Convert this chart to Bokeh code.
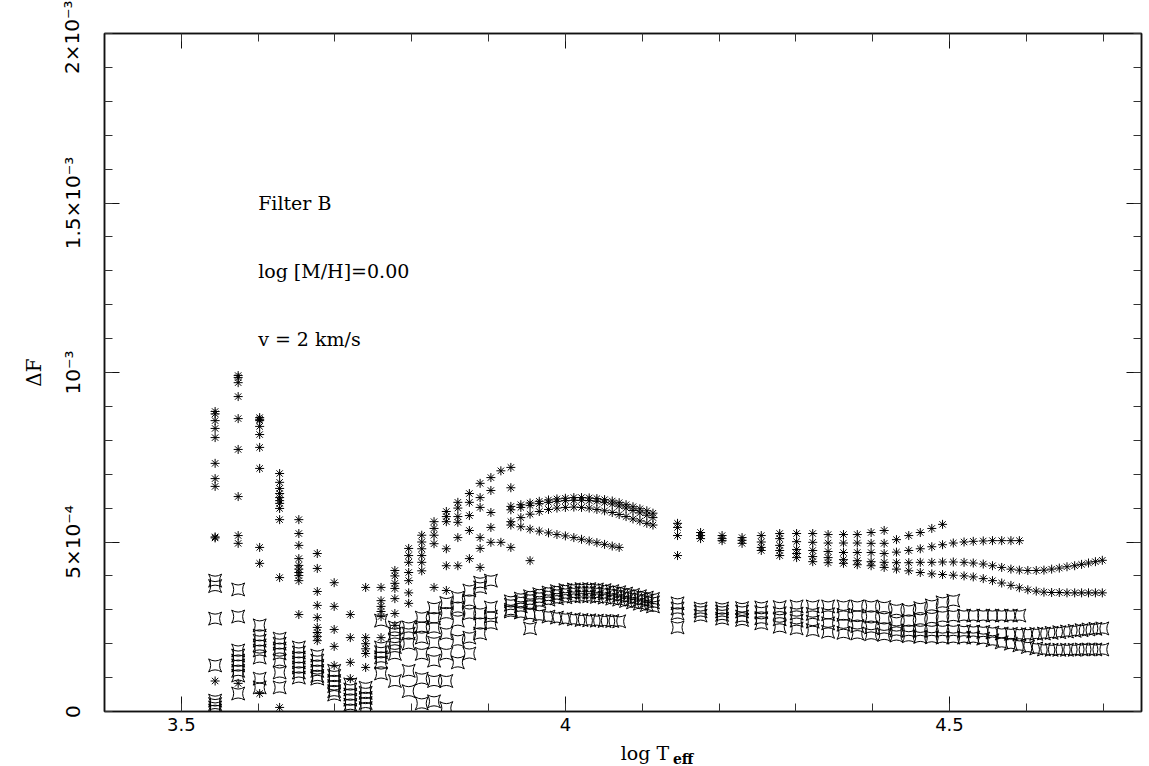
from bokeh.plotting import figure
from bokeh.layouts import column
from bokeh.models import LinearAxis, FixedTicker, CustomJSTickFormatter, Label, Range1d
from bokeh.embed import file_html
from bokeh.resources import INLINE

UNIT = 1e-4  # values below are in units of 1e-4

# ---------------- low-temperature columns (log Teff, values) ----------------
star_col_x = [3.544, 3.574, 3.602, 3.628, 3.653, 3.677, 3.699, 3.720, 3.740, 3.760,
              3.778, 3.796, 3.813, 3.829, 3.845, 3.860, 3.875, 3.889, 3.903, 3.916,
              3.929, 3.954, 4.146]
star_col_y = [
    [8.85, 8.78, 8.58, 8.35, 8.08, 7.32, 6.87, 6.64, 5.15, 5.12, 0.9],
    [9.91, 9.85, 9.70, 9.29, 8.64, 7.73, 6.34, 5.19, 4.96, 0.83],
    [8.67, 8.62, 8.58, 8.41, 8.17, 7.79, 7.17, 4.84, 4.37, 0.53],
    [7.02, 6.76, 6.58, 6.43, 6.31, 6.22, 6.14, 5.99, 5.66, 3.95, 0.12],
    [5.66, 5.25, 4.90, 4.51, 4.31, 4.20, 4.10, 4.01, 3.86, 2.86],
    [4.66, 4.22, 3.54, 3.13, 2.77, 2.48, 2.33, 2.21, 2.09],
    [3.80, 3.10, 2.42, 1.92, 1.36],
    [2.86, 2.18, 1.45, 0.97],
    [3.66, 2.18, 2.00, 1.85, 1.71, 1.30],
    [3.66, 3.27, 3.10, 2.95, 2.80, 2.18],
    [4.16, 4.00, 3.78, 3.63, 3.33, 2.89, 2.54],
    [4.81, 4.60, 4.40, 4.10, 3.86, 3.50, 3.19],
    [5.20, 5.00, 4.80, 4.60, 4.40, 4.15],
    [5.60, 5.40, 5.20, 4.95, 3.66],
    [5.90, 5.75, 5.60, 4.80, 4.30, 3.57],
    [6.17, 6.00, 5.75, 5.58, 5.13, 4.30],
    [6.43, 6.17, 5.78, 5.34, 4.51],
    [6.73, 6.31, 6.02, 5.13, 4.81, 4.25],
    [6.90, 6.52, 5.87, 5.43, 4.99],
    [7.10, 4.99],
    [7.20, 6.60, 4.84],
    [4.45],
    [4.60],
]

box_col_x = [3.544, 3.574, 3.602, 3.628, 3.653, 3.677, 3.699, 3.720, 3.740, 3.760,
             3.778, 3.796, 3.813, 3.829, 3.845, 3.860, 3.875, 3.889, 3.903, 3.954,
             4.146]
box_col_y = [
    [3.86, 3.70, 2.74, 1.36, 0.32, 0.22, 0.12, 0.03],
    [3.60, 2.80, 1.80, 1.65, 1.50, 1.36, 1.20, 1.06, 0.53],
    [2.54, 2.24, 2.09, 1.95, 1.80, 1.59, 0.97, 0.71],
    [2.15, 2.00, 1.86, 1.71, 1.50, 1.15, 0.71],
    [1.89, 1.74, 1.59, 1.45, 1.30, 1.15, 1.00],
    [1.65, 1.50, 1.35, 1.20, 1.05, 0.97],
    [1.20, 1.05, 0.90, 0.75, 0.60, 0.50],
    [0.80, 0.65, 0.50, 0.35, 0.20, 0.05],
    [0.70, 0.55, 0.40, 0.25, 0.10],
    [2.68, 1.89, 1.75, 1.60, 1.45, 1.12],
    [2.48, 2.30, 2.10, 1.90, 1.70, 0.90],
    [2.48, 2.30, 2.00, 1.20, 0.60],
    [2.77, 2.50, 2.18, 1.70, 0.97, 0.24],
    [3.05, 2.75, 2.48, 2.03, 1.50, 0.90, 0.30],
    [3.20, 2.90, 2.30, 1.70, 0.90, 0.10],
    [3.36, 3.07, 2.68, 2.10, 1.45],
    [3.57, 3.27, 2.89, 2.18, 1.71],
    [3.80, 3.66, 2.89, 2.60, 2.30],
    [3.86, 3.07, 2.80, 2.60],
    [2.45],
    [2.48],
]

# ---------------- intermediate temperatures (250 K steps) ----------------
mid_x = [3.929, 3.942, 3.954, 3.966, 3.978, 3.989, 4.000, 4.011, 4.021, 4.031,
         4.041, 4.051, 4.061, 4.070, 4.079, 4.088, 4.097, 4.106, 4.114]
star_mid = [
    [6.05, 6.10, 6.15, 6.20, 6.24, 6.27, 6.29, 6.31, 6.31, 6.30, 6.28, 6.25, 6.21, 6.16, 6.10, 6.04, 5.98, 5.92, 5.85],
    [5.95, 6.02, 6.08, 6.13, 6.17, 6.20, 6.22, 6.23, 6.23, 6.22, 6.20, 6.16, 6.12, 6.06, 6.00, 5.93, 5.86, 5.79, 5.72],
    [5.60, 5.72, 5.82, 5.90, 5.96, 6.00, 6.02, 6.03, 6.02, 6.00, 5.96, 5.92, 5.87, 5.81, 5.75, 5.68, 5.62, 5.55, 5.50],
    [5.50, 5.45, 5.38, 5.32, 5.27, 5.22, 5.18, 5.13, 5.08, 5.03, 4.98, 4.93, 4.88, 4.84],
]
box_mid = [
    [3.25, 3.33, 3.40, 3.46, 3.51, 3.55, 3.58, 3.60, 3.61, 3.61, 3.60, 3.58, 3.55, 3.52, 3.48, 3.44, 3.40, 3.36, 3.32],
    [3.15, 3.23, 3.30, 3.36, 3.41, 3.45, 3.48, 3.50, 3.51, 3.51, 3.50, 3.48, 3.45, 3.42, 3.38, 3.34, 3.30, 3.26, 3.22],
    [3.00, 3.10, 3.18, 3.25, 3.30, 3.34, 3.37, 3.39, 3.40, 3.40, 3.38, 3.36, 3.33, 3.30, 3.26, 3.22, 3.18, 3.14, 3.10],
    [2.95, 2.92, 2.88, 2.84, 2.80, 2.77, 2.74, 2.72, 2.70, 2.69, 2.68, 2.67, 2.67, 2.66],
]

# ---------------- hot models (1000 K steps) ----------------
hot_x = [4.146, 4.176, 4.204, 4.230, 4.255, 4.279, 4.301, 4.322, 4.342, 4.362,
         4.380, 4.398, 4.415, 4.431, 4.447, 4.462, 4.477, 4.491, 4.505, 4.519,
         4.531, 4.544, 4.556, 4.568, 4.580, 4.591, 4.602, 4.613, 4.623, 4.633,
         4.643, 4.653, 4.663, 4.672, 4.681, 4.690, 4.699]
star_hot_start = [0, 0, 0, 4, 5]
star_hot = [
    [5.55, 5.28, 5.19, 5.13, 5.19, 5.25, 5.25, 5.25, 5.22, 5.22, 5.22, 5.28, 5.34],
    [5.43, 5.19, 5.10, 5.05, 5.00, 5.10, 5.01, 4.99, 4.97, 4.97, 4.97, 4.96, 4.96, 5.07, 5.19, 5.28, 5.40, 5.52],
    [5.19, 5.10, 5.04, 4.96, 4.84, 4.90, 4.78, 4.75, 4.72, 4.69, 4.69, 4.69, 4.66, 4.70, 4.75, 4.80, 4.86, 4.92,
     4.97, 5.00, 5.02, 5.03, 5.04, 5.04, 5.04, 5.04],
    [4.75, 4.75, 4.66, 4.57, 4.54, 4.48, 4.45, 4.42, 4.40, 4.39, 4.39, 4.40, 4.40, 4.41, 4.41, 4.40, 4.38, 4.35,
     4.30, 4.25, 4.20, 4.17, 4.16, 4.16, 4.17, 4.20, 4.23, 4.27, 4.30, 4.34, 4.38, 4.42, 4.46],
    [4.60, 4.54, 4.42, 4.39, 4.37, 4.33, 4.30, 4.25, 4.20, 4.15, 4.10, 4.06, 4.04, 4.02, 4.00, 3.97, 3.92, 3.86,
     3.79, 3.72, 3.65, 3.59, 3.55, 3.52, 3.51, 3.51, 3.50, 3.50, 3.50, 3.50, 3.50, 3.50],
]
box_hot_start = [0, 0, 0, 2]
box_hot = [
    [3.19, 3.04, 3.04, 3.05, 3.07, 3.08, 3.10, 3.10, 3.10, 3.10, 3.10, 3.10, 3.08, 3.00, 2.98, 3.05, 3.13, 3.22, 3.27],
    [3.04, 2.95, 2.95, 2.95, 2.93, 2.90, 2.89, 2.88, 2.87, 2.85, 2.83, 2.80, 2.75, 2.63, 2.68, 2.72, 2.76, 2.80,
     2.82, 2.83, 2.83, 2.83, 2.83, 2.83, 2.83, 2.83],
    [2.89, 2.83, 2.85, 2.80, 2.75, 2.72, 2.68, 2.65, 2.60, 2.56, 2.52, 2.48, 2.45, 2.39, 2.38, 2.38, 2.38, 2.38,
     2.38, 2.37, 2.36, 2.35, 2.33, 2.30, 2.29, 2.28, 2.28, 2.29, 2.30, 2.32, 2.34, 2.36, 2.38, 2.40, 2.42, 2.44, 2.45],
    [2.74, 2.70, 2.60, 2.50, 2.45, 2.40, 2.35, 2.32, 2.30, 2.28, 2.26, 2.24, 2.22, 2.20, 2.19, 2.18, 2.18, 2.18,
     2.18, 2.15, 2.10, 2.04, 2.00, 1.95, 1.90, 1.86, 1.83, 1.82, 1.82, 1.82, 1.82, 1.83, 1.83, 1.83, 1.83],
]

x_major = [3.5, 4.0, 4.5]
x_minor = [3.5, 3.6, 3.7, 3.8, 3.9, 4.0, 4.1, 4.2, 4.3, 4.4, 4.5, 4.6, 4.7]
y_major = [0, 0.0005, 0.001, 0.0015, 0.002]
y_minor = [i * 1e-4 for i in range(21)]
y_labels = {0: "0", 0.0005: "5×10⁻⁴", 0.001: "10⁻³", 0.0015: "1.5×10⁻³", 0.002: "2×10⁻³"}
x_labels = {3.5: "3.5", 4: "4", 4.5: "4.5"}


def collect(col_x, col_y, mid, hot_starts, hot):
    xs, ys = [], []
    for x, vals in zip(col_x, col_y):
        for v in vals:
            xs.append(x)
            ys.append(v * UNIT)
    for vals in mid:
        for x, v in zip(mid_x, vals):
            xs.append(x)
            ys.append(v * UNIT)
    for s, vals in zip(hot_starts, hot):
        for x, v in zip(hot_x[s:], vals):
            xs.append(x)
            ys.append(v * UNIT)
    return xs, ys


sx, sy = collect(star_col_x, star_col_y, star_mid, star_hot_start, star_hot)
bx, by = collect(box_col_x, box_col_y, box_mid, box_hot_start, box_hot)

INK = "#111111"
xr = Range1d(3.4, 4.75)
p = figure(width=1149, height=741, output_backend="svg", toolbar_location=None,
           x_range=xr, y_range=Range1d(0, 0.002),
           min_border_left=104, min_border_right=8, min_border_top=33, min_border_bottom=30)
p.xgrid.visible = False
p.ygrid.visible = False
p.outline_line_color = INK
p.outline_line_width = 1.5
p.background_fill_color = "white"
p.border_fill_color = "white"

p.scatter(bx, by, marker="square_pin", size=13, fill_color=None, line_color="black", line_width=1)
p.scatter(sx, sy, marker="asterisk", size=9, line_color="black", line_width=1)

xt = FixedTicker(ticks=x_major, minor_ticks=x_minor)
yt = FixedTicker(ticks=y_major, minor_ticks=y_minor)
blank = CustomJSTickFormatter(code="return ''")


def style(ax):
    ax.major_tick_in = 15
    ax.major_tick_out = 0
    ax.minor_tick_in = 8
    ax.minor_tick_out = 0
    ax.axis_line_color = INK
    ax.axis_line_width = 1.5
    ax.major_tick_line_color = INK
    ax.minor_tick_line_color = "#333333"
    ax.major_label_text_color = "black"
    ax.axis_label_text_color = "black"


xa = p.xaxis[0]
xa.ticker = xt
xa.major_label_overrides = x_labels
xa.major_label_text_font = "DejaVu Sans"
xa.major_label_text_font_size = "18px"
xa.major_label_standoff = 6
style(xa)

ya = p.yaxis[0]
ya.ticker = yt
ya.major_label_overrides = y_labels
ya.major_label_orientation = "vertical"
ya.major_label_text_font = "DejaVu Sans"
ya.major_label_text_font_size = "20px"
ya.major_label_standoff = 20
ya.axis_label = "ΔF"
ya.axis_label_text_font = "DejaVu Serif"
ya.axis_label_text_font_style = "normal"
ya.axis_label_text_font_size = "20px"
ya.axis_label_standoff = 12
style(ya)

top = LinearAxis(ticker=xt, formatter=blank, major_label_standoff=0)
right = LinearAxis(ticker=yt, formatter=blank, major_label_standoff=0)
style(top)
style(right)
p.add_layout(top, "above")
p.add_layout(right, "right")

txt_font = "DejaVu Serif"
for t, yv in [("Filter B", 0.0015), ("log [M/H]=0.00", 0.0013), ("v = 2 km/s", 0.0011)]:
    p.add_layout(Label(x=3.6, y=yv, text=t, text_font=txt_font, text_font_size="19px",
                       text_baseline="middle", text_align="left", text_color="black"))

# x-axis title strip (log T_eff with subscript)
p2 = figure(width=1149, height=25, output_backend="svg", toolbar_location=None,
            x_range=xr, y_range=Range1d(0, 25), x_axis_type=None, y_axis_type=None,
            min_border_left=104, min_border_right=8, min_border_top=0, min_border_bottom=0)
p2.xgrid.visible = False
p2.ygrid.visible = False
p2.outline_line_color = None
p2.background_fill_color = "white"
p2.border_fill_color = "white"
p2.add_layout(Label(x=4.072, y=14, text="log T", text_font=txt_font, text_font_size="19px",
                    text_baseline="middle", text_align="left", text_color="black"))
p2.add_layout(Label(x=4.140, y=8, text="eff", text_font=txt_font, text_font_size="14px",
                    text_baseline="middle", text_align="left", text_color="black", text_font_style="bold"))

layout = column(p, p2, spacing=0)
open("out.html", "w").write(file_html(layout, INLINE))
